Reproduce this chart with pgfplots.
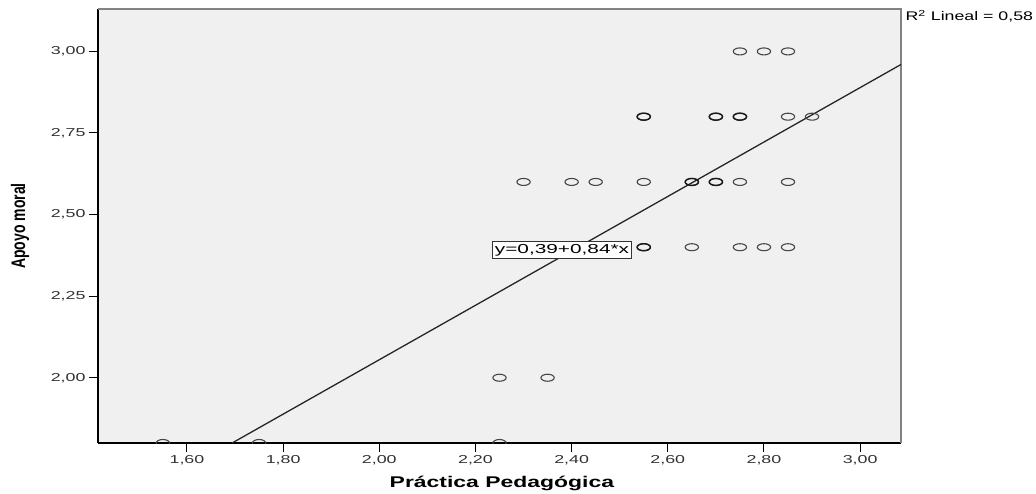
\documentclass[border=0pt]{standalone}
\usepackage{fontspec}
\setmainfont{Liberation Sans}
\usepackage{pgfplots}
\pgfplotsset{compat=1.18}

\definecolor{plotbg}{RGB}{240,240,240}
\definecolor{framegray}{RGB}{130,130,130}
\definecolor{markgray}{RGB}{70,70,70}
\definecolor{ticktext}{RGB}{50,50,50}

% SPSS export looks stretched sideways, so text and marks get widened
\newcommand{\wide}[2]{\scalebox{#1}[1]{#2}}

\begin{document}
\begin{tikzpicture}
\begin{axis}[
  scale only axis,
  width=803pt, height=434pt,
  xmin=1.415, xmax=3.085,
  ymin=1.80, ymax=3.13,
  xtick={1.6,1.8,2.0,2.2,2.4,2.6,2.8,3.0},
  ytick={2.0,2.25,2.5,2.75,3.0},
  axis lines*=left,
  axis line style={-, black, line width=1.3pt},
  axis background/.style={fill=plotbg},
  tick align=outside,
  major tick length=9pt,
  tick style={black, line width=1pt},
  /pgf/number format/assume math mode=true,
  /pgf/number format/.cd, fixed, fixed zerofill, precision=2, use comma,
  /pgfplots/.cd,
  tick label style={font=\fontsize{11.5}{13}\selectfont, text=ticktext},
  xticklabel={\wide{1.55}{\pgfmathprintnumber{\tick}}},
  yticklabel={\wide{1.55}{\pgfmathprintnumber{\tick}}},
  xlabel={\wide{1.48}{\bfseries\fontsize{15.5}{17}\selectfont Práctica Pedagógica}},
  ylabel={\scalebox{1}[1.4]{\bfseries\fontsize{14}{16}\selectfont Apoyo moral}},
  every axis x label/.style={at={(axis description cs:0.503,0)}, anchor=center, yshift=-40pt},
  every axis y label/.style={at={(axis description cs:-0.097,0.5)}, rotate=90, anchor=center},
  clip mode=individual,
  clip marker paths=true,
]
% gray top and right border
\draw[framegray, line width=2pt] (rel axis cs:0,1) -- (rel axis cs:1,1) -- (rel axis cs:1,0);

% fit line
\addplot[black!85, line width=1.3pt] coordinates {(1.694,1.80) (3.085,2.96)};

% observations
\addplot[only marks, mark=o, mark size=3.5pt,
  mark options={xscale=1.9, draw=markgray, line width=1.1pt}]
  coordinates {
    (2.75,3.00) (2.80,3.00) (2.85,3.00)
    (2.55,2.80) (2.70,2.80) (2.75,2.80) (2.85,2.80) (2.90,2.80)
    (2.30,2.60) (2.40,2.60) (2.45,2.60) (2.55,2.60) (2.65,2.60)
    (2.70,2.60) (2.75,2.60) (2.85,2.60)
    (2.55,2.40) (2.65,2.40) (2.75,2.40) (2.80,2.40) (2.85,2.40)
    (2.25,2.00) (2.35,2.00)
    (1.55,1.80) (1.75,1.80) (2.25,1.80)
  };
% repeated cases, drawn darker
\addplot[only marks, mark=o, mark size=3.5pt,
  mark options={xscale=1.9, draw=black!90, line width=1.4pt}]
  coordinates {
    (2.55,2.80) (2.70,2.80) (2.75,2.80)
    (2.65,2.60) (2.70,2.60) (2.55,2.40)
  };

\node[draw=black!80, fill=white, line width=0.9pt, inner sep=2.8pt,
  font=\fontsize{13}{15}\selectfont]
  at (axis cs:2.380,2.391) {\wide{1.6}{y=0,39+0,84*x}};
\end{axis}
\node[anchor=base west, font=\fontsize{12.5}{14}\selectfont]
  at ([xshift=1pt,yshift=-12pt]current axis.north east) {\wide{1.42}{R\textsuperscript{2} Lineal = 0,58}};
\pgfresetboundingbox
\path[use as bounding box] (-98pt,-50pt) rectangle (938pt,443pt);
\end{tikzpicture}
\end{document}
